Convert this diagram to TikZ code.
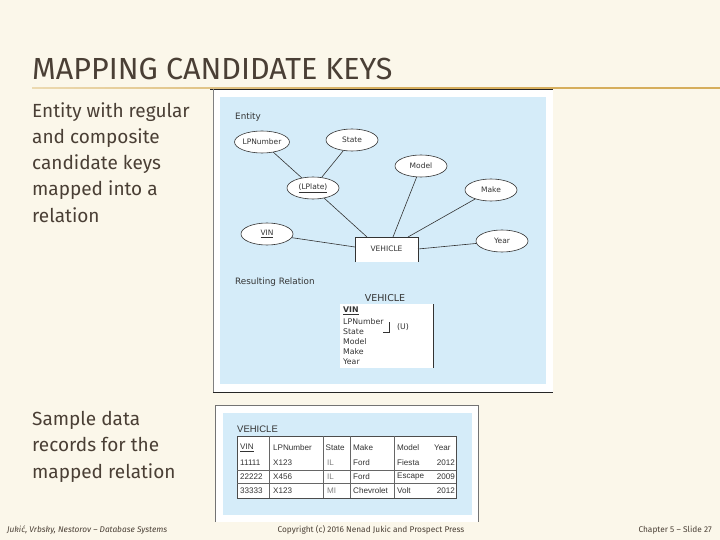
\documentclass[tikz,border=0pt]{standalone}
\usepackage{fontspec}
\setmainfont{Fira Sans}
\newfontfamily\erfont{DejaVu Sans}
\newfontfamily\tabfont{Liberation Sans}
\usetikzlibrary{shapes.geometric}
\definecolor{bg}{HTML}{FBF7EA}
\definecolor{ink}{HTML}{4A3F35}
\definecolor{gold}{HTML}{D6AE5C}
\definecolor{sky}{HTML}{D5ECF9}
\definecolor{erline}{HTML}{333333}
\tikzset{
  attr/.style={ellipse,draw=erline,fill=white,line width=0.6pt,inner sep=0pt,minimum width=52pt,minimum height=22pt,font=\erfont\fontsize{7.5}{8}\selectfont,text=erline},
  conn/.style={draw=erline,line width=0.6pt},
  ertext/.style={font=\erfont\fontsize{8.8}{9}\selectfont,text=erline,anchor=west,inner sep=0pt},
  reltext/.style={font=\erfont\fontsize{7.8}{8}\selectfont,text=erline,anchor=west,inner sep=0pt},
  tabtext/.style={font=\tabfont\fontsize{8.1}{9}\selectfont,text=black!80,anchor=west,inner sep=0pt},
  body/.style={font=\fontsize{19}{26.3}\selectfont,text=ink,anchor=north west,inner sep=0pt,align=left},
  foot/.style={font=\fontsize{8.3}{9}\selectfont,text=ink,inner sep=0pt}
}
\begin{document}
\begin{tikzpicture}[x=1pt,y=-1pt]
\useasboundingbox (0,0) rectangle (720,540);
\fill[bg] (0,0) rectangle (720,540);
% title
\node[font=\fontsize{30.5}{34}\selectfont,text=ink,anchor=base west,inner sep=0pt] (title) at (32,80) {MAPPING CANDIDATE KEYS};
\shade[left color=gold!40!bg,right color=gold,middle color=gold] (32,87.2) rectangle (720,88.8);
% left texts
\node[body] (t1) at (32,102) {Entity with regular\\and composite\\candidate keys\\mapped into a\\relation};
\node[body] (t2) at (32,411) {Sample data\\records for the\\mapped relation};
% picture 1 frame
\fill[white] (213,89) rectangle (553,392);
\draw[line width=1pt,black!85] (210,89.5) -- (553,89.5);
\draw[line width=1pt,black!85] (213,392) -- (553,392);
\draw[line width=0.6pt,black!50] (213,89.5) -- (213,392);
\fill[sky] (220,97) rectangle (546,384);
\node[ertext] (entl) at (235,117) {Entity};
\node[attr] (lpn) at (262,142) {LPNumber};
\node[attr] (state) at (352,140) {State};
\node[attr] (model) at (421,166) {Model};
\node[attr] (lplate) at (313,188) {\underline{(LPlate)}};
\node[attr] (make) at (491,190) {Make};
\node[attr] (vin) at (267,234) {\underline{VIN}};
\node[attr] (year) at (502,241) {Year};
\fill[white] (355,237) rectangle (418,262);
\node[font=\erfont\fontsize{7.5}{8}\selectfont,text=erline,inner sep=0pt] (veh) at (386.5,249) {VEHICLE};
\coordinate (vtl) at (355,237);
\coordinate (vtr) at (418,237);
\coordinate (vbl) at (355,262);
\coordinate (vbr) at (418,262);
\draw[conn] (vbl) -- (vtl) -- (vtr) -- (vbr);
\draw[conn] (lpn) -- (lplate);
\draw[conn] (state) -- (lplate);
\draw[conn] (lplate) -- (367,237);
\draw[conn] (model) -- (393,237);
\draw[conn] (make) -- (408,237);
\draw[conn] (vin) -- (355,247);
\draw[conn] (year) -- (418,249);
% resulting relation
\node[ertext] (rr) at (235,282) {Resulting Relation};
\node[font=\erfont\fontsize{9.5}{10}\selectfont,text=erline,inner sep=0pt] (vehrel) at (385,298) {VEHICLE};
\fill[white] (340,304) rectangle (433,368);
\draw[conn] (433,304) -- (433,368);
\node[reltext,font=\erfont\bfseries\fontsize{7.8}{8}\selectfont] (rvin) at (343,311) {\underline{VIN}};
\node[reltext] (rlpn) at (343,321.5) {LPNumber};
\node[reltext] (rstate) at (343,332) {State};
\node[reltext] (rmodel) at (343,342) {Model};
\node[reltext] (rmake) at (343,352) {Make};
\node[reltext] (ryear) at (343,362) {Year};
\draw[conn] (383,332) -- (389,332) -- (389,322);
\node[reltext] (u) at (397,327) {(U)};
% picture 2
\fill[white] (215,405) rectangle (478,522);
\draw[line width=0.8pt,black!55] (215,522) -- (215,405) -- (478,405) -- (478,522);
\fill[sky] (223,413) rectangle (472,515);
\node[tabtext,font=\tabfont\fontsize{9.5}{10}\selectfont] (tv) at (237,429) {VEHICLE};
\fill[white] (237,436) rectangle (456,498);
\draw[line width=0.7pt,black!70] (237,436) rectangle (456,498);
\foreach \xx in {269,323,350,394} {\draw[line width=0.5pt,black!60] (\xx,436) -- (\xx,498);}
\draw[line width=0.5pt,black!60] (237,470) -- (456,470);
\draw[line width=0.5pt,black!60] (237,483.5) -- (456,483.5);
\node[tabtext] (h1) at (240,448) {\underline{VIN}};
\node[tabtext] (h2) at (273,448) {LPNumber};
\node[tabtext] (h3) at (325.5,448) {State};
\node[tabtext] (h4) at (353,448) {Make};
\node[tabtext] (h5) at (397,448) {Model};
\node[tabtext] (h6) at (434,448) {Year};
\node[tabtext] at (240,463) {11111};
\node[tabtext] at (273,463) {X123};
\node[tabtext,text=black!50] at (327,463) {IL};
\node[tabtext] at (353,463) {Ford};
\node[tabtext] at (397,463) {Fiesta};
\node[tabtext,anchor=east] at (455,463) {2012};
\node[tabtext] at (240,477) {22222};
\node[tabtext] at (273,477) {X456};
\node[tabtext,text=black!50] at (327,477) {IL};
\node[tabtext] at (353,477) {Ford};
\node[tabtext] at (397,477) {Escape};
\node[tabtext,anchor=east] at (455,477) {2009};
\node[tabtext] at (240,490.5) {33333};
\node[tabtext] at (273,490.5) {X123};
\node[tabtext,text=black!50] at (327,490.5) {MI};
\node[tabtext] at (353,490.5) {Chevrolet};
\node[tabtext] at (397,490.5) {Volt};
\node[tabtext,anchor=east] at (455,490.5) {2012};
% footer
\node[foot,anchor=west,font=\itshape\fontsize{8.3}{9}\selectfont] (f1) at (7,530) {Jukić, Vrbsky, Nestorov – Database Systems};
\node[foot] (f2) at (371,530) {Copyright (c) 2016 Nenad Jukic and Prospect Press};
\node[foot,anchor=east] (f3) at (712,530) {Chapter 5 – Slide 27};
\end{tikzpicture}
\end{document}
